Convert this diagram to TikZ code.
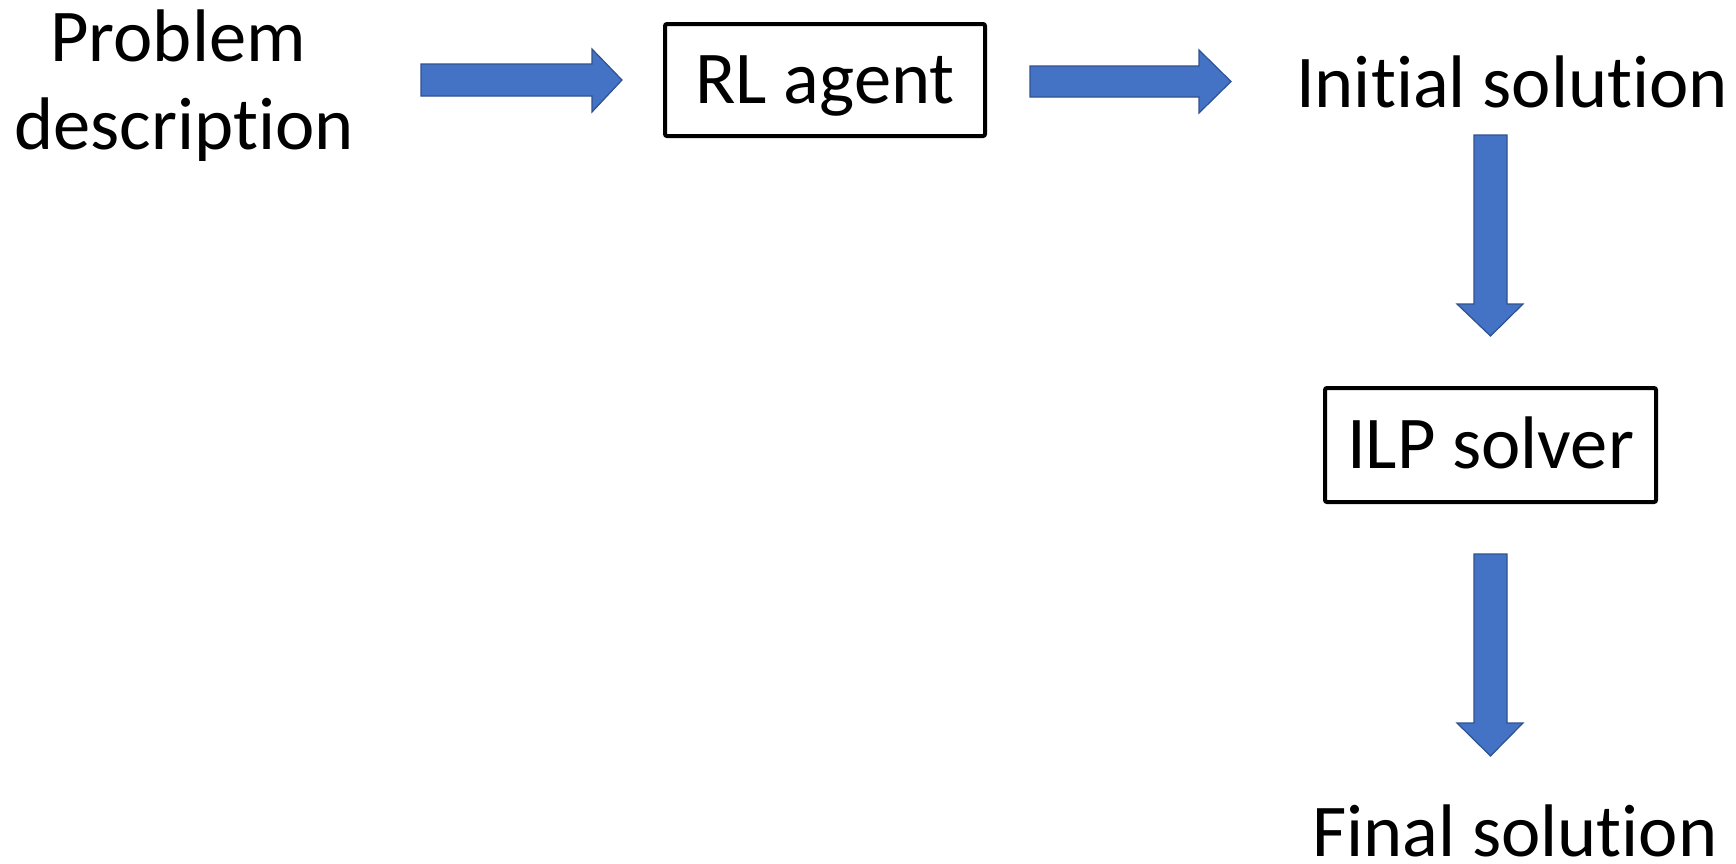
\documentclass[tikz,border=0pt]{standalone}
\usepackage{fontspec}
\setmainfont[Ligatures=NoCommon]{Carlito}
\definecolor{arrowblue}{HTML}{4472C4}
\definecolor{arrowedge}{HTML}{2F528F}
\begin{document}
\begin{tikzpicture}[x=0.5pt,y=-0.5pt,
  lbl/.style={inner sep=0pt, anchor=base, font=\fontsize{37.25}{43.5}\selectfont},
  boxnode/.style={draw=black, line width=2pt, rounded corners=1pt, inner sep=0pt,
     text height=23.5pt, text depth=0pt, anchor=center, font=\fontsize{37.25}{43.5}\selectfont},
  blockarrow/.style={fill=arrowblue, draw=arrowedge, line width=0.6pt, line join=miter}]
\useasboundingbox (0,0) rectangle (1736,863);
% texts
\node[lbl] (prob) at (178,61) {Problem};
\node[lbl] (desc) at (184,149) {description};
\node[boxnode, minimum width=160pt, minimum height=56pt] (rl) at (825,80) {RL agent};
\node[lbl] (init) at (1512,107) {Initial solution};
\node[boxnode, minimum width=165.5pt, minimum height=57pt] (ilp) at (1490.5,445) {ILP solver};
\node[lbl] (final) at (1515,856) {Final solution};
% block arrows
\draw[blockarrow] (421,64) -- (592,64) -- (592,49) -- (622,80) -- (592,112) -- (592,96) -- (421,96) -- cycle;
\draw[blockarrow] (1030,66) -- (1199,66) -- (1199,50) -- (1231,81.5) -- (1199,113) -- (1199,97) -- (1030,97) -- cycle;
\draw[blockarrow] (1474,135) -- (1507,135) -- (1507,304) -- (1523,304) -- (1490.5,336) -- (1457,304) -- (1474,304) -- cycle;
\draw[blockarrow] (1474,554) -- (1507,554) -- (1507,723) -- (1523,723) -- (1490.5,756) -- (1457,723) -- (1474,723) -- cycle;
\end{tikzpicture}
\end{document}
